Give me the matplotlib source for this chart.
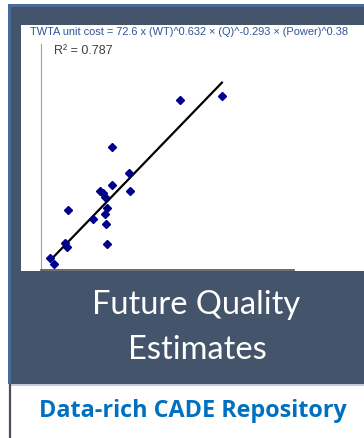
import matplotlib
matplotlib.use("Agg")
import matplotlib.pyplot as plt
from matplotlib.patches import Rectangle

# данные точек (условные единицы, оси 0..100)
wt_x = [3.6, 5.3, 9.5, 10.2, 10.6, 20.4, 23.3, 24.4, 25.3, 26.0,
        25.4, 25.7, 26.2, 28.2, 28.1, 34.7, 35.2, 55.1, 71.5]
cost_y = [5.4, 2.7, 12.1, 10.3, 26.5, 22.7, 35.0, 33.9, 32.4, 27.6,
          24.8, 20.4, 11.6, 37.6, 54.6, 42.8, 34.8, 75.1, 76.9]
# линия регрессии (концы)
fit_x = [4.2, 71.5]
fit_y = [4.9, 82.9]

title_txt = "TWTA unit cost = 72.6 x (WT)^0.632 \u00d7 (Q)^-0.293 \u00d7 (Power)^0.38"
r2_txt = "R\u00b2 = 0.787"
band_lines = ["Future Quality", "Estimates"]
footer_txt = "Data-rich CADE Repository"

W, H = 364, 438
slate = "#44546A"
frame_blue = "#4A6A99"

fig = plt.figure(figsize=(W / 100, H / 100), dpi=100)
fig.patch.set_facecolor("white")

# фон в пиксельных координатах
bg = fig.add_axes([0, 0, 1, 1], zorder=0)
bg.set_xlim(0, W)
bg.set_ylim(H, 0)
bg.axis("off")

bg.add_patch(Rectangle((8, 4), W - 8, 380, color=frame_blue, lw=0))
bg.add_patch(Rectangle((11, 7), W - 11, 377, color=slate, lw=0))
bg.add_patch(Rectangle((21, 25), W - 21, 246, color="white", lw=0))
bg.plot([10, W], [384.5, 384.5], color="#B8C2D0", lw=1.2)
bg.plot([10, 10], [385, H], color="#4A5060", lw=1.6)

bg.text(30, 32, title_txt, color="#2F5597", fontsize=7.9, family="Liberation Sans",
        ha="left", va="center")
bg.text(54, 51, r2_txt, color="#404040", fontsize=9, family="Liberation Sans",
        ha="left", va="center")

bg.text(196, 305, band_lines[0], color="white", fontsize=23.5, family="Lato",
        ha="center", va="center")
bg.text(197, 350, band_lines[1], color="white", fontsize=23.5, family="Lato",
        ha="center", va="center")
bg.text(193, 411, footer_txt, color="#0070C0", fontsize=16.8, family="Open Sans",
        fontweight="bold", ha="center", va="center")

# график
ax = fig.add_axes([41 / W, (H - 270) / H, (294 - 41) / W, (270 - 44) / H], zorder=2)
ax.set_facecolor("none")
ax.set_xlim(0, 100)
ax.set_ylim(0, 100)
ax.spines["top"].set_visible(False)
ax.spines["right"].set_visible(False)
ax.spines["left"].set_color("#A0A0A0")
ax.spines["bottom"].set_color("#505050")
ax.spines["bottom"].set_linewidth(1.2)
ax.set_xticks([])
ax.set_yticks([])

ax.plot(fit_x, fit_y, color="black", lw=1.6, zorder=2)
ax.plot(wt_x, cost_y, "D", color="#00008B", ms=4.3, zorder=3, clip_on=False)

fig.savefig("out.png", dpi=100)
